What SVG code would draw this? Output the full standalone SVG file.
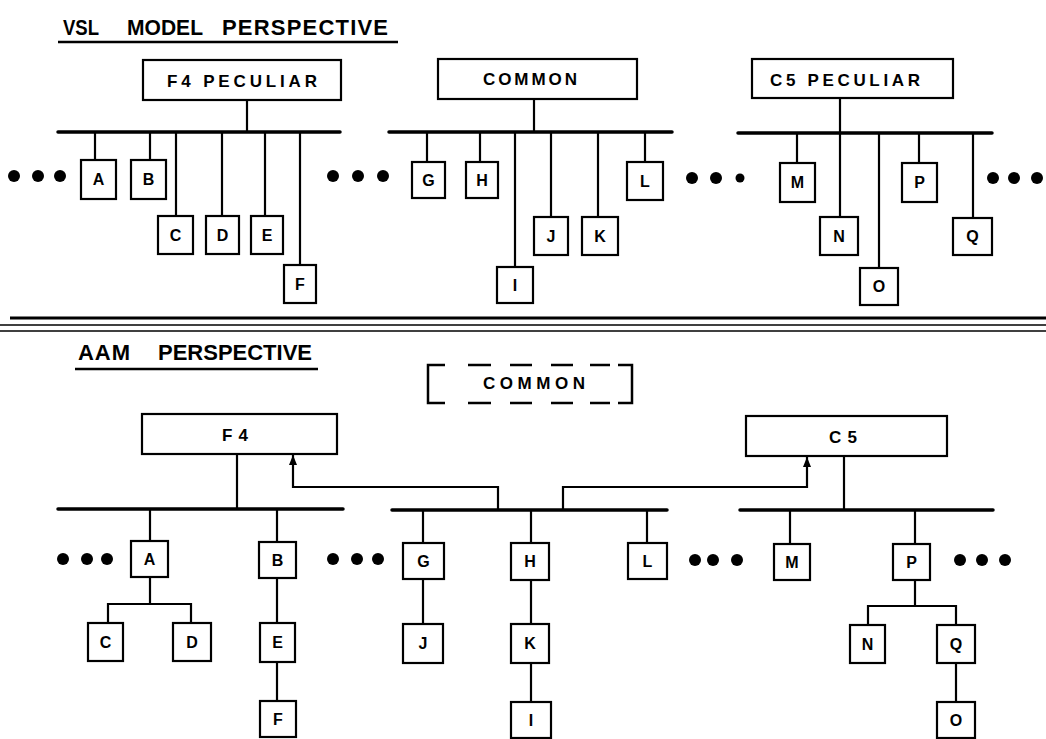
<svg xmlns="http://www.w3.org/2000/svg" width="1046" height="739" viewBox="0 0 1046 739">
<defs>
<style>
.box{fill:#fff;stroke:#000;stroke-width:2.2}
.bus{stroke:#000;stroke-width:3.5;stroke-linecap:round;fill:none}
.ln{stroke:#000;stroke-width:2.2;fill:none}
.lbl{font-family:"Liberation Sans",Arial,sans-serif;font-weight:bold;font-size:16px;text-anchor:middle;fill:#000}
.big{font-family:"Liberation Sans",Arial,sans-serif;font-weight:bold;font-size:17px;fill:#000}
.ttl{font-family:"Liberation Sans",Arial,sans-serif;font-weight:bold;font-size:22px;fill:#000}
.dot{fill:#000}
.dash{stroke:#000;stroke-width:2.5;fill:none}
</style>
<marker id="arr" markerUnits="userSpaceOnUse" markerWidth="10" markerHeight="8" refX="10" refY="4" orient="auto">
<path d="M0,0 L10,4 L0,8 z" fill="#000"/>
</marker>
</defs>
<rect width="1046" height="739" fill="#fff"/>

<!-- titles -->
<g id="title-vsl">
<text class="ttl" x="63" y="35" textLength="36" lengthAdjust="spacingAndGlyphs">VSL</text>
<text class="ttl" x="127" y="35" textLength="76" lengthAdjust="spacingAndGlyphs">MODEL</text>
<text class="ttl" x="222" y="35" textLength="166" lengthAdjust="spacing">PERSPECTIVE</text>
<line x1="58" y1="42" x2="398" y2="42" stroke="#000" stroke-width="2.5"/>
</g>
<g id="title-aam">
<text class="ttl" x="78" y="360" textLength="52" lengthAdjust="spacing">AAM</text>
<text class="ttl" x="158" y="360" textLength="154" lengthAdjust="spacing">PERSPECTIVE</text>
<line x1="75" y1="369" x2="318" y2="369" stroke="#000" stroke-width="2.5"/>
</g>

<!-- separator -->
<g id="separator">
<line x1="10" y1="318" x2="1046" y2="318" stroke="#000" stroke-width="2.8"/>
<line x1="0" y1="325" x2="1046" y2="325" stroke="#000" stroke-width="1.5"/>
<line x1="0" y1="331" x2="1046" y2="331" stroke="#000" stroke-width="1.5"/>
</g>

<!-- connectors -->
<g id="connectors">
<!-- top F4 -->
<line class="ln" x1="247" y1="100" x2="247" y2="132"/>
<line class="bus" x1="58" y1="132" x2="340" y2="132"/>
<line class="ln" x1="95" y1="132" x2="95" y2="160"/>
<line class="ln" x1="150" y1="132" x2="150" y2="160"/>
<line class="ln" x1="176" y1="132" x2="176" y2="216"/>
<line class="ln" x1="222" y1="132" x2="222" y2="216"/>
<line class="ln" x1="265" y1="132" x2="265" y2="216"/>
<line class="ln" x1="300" y1="132" x2="300" y2="265"/>
<!-- top COMMON -->
<line class="ln" x1="534" y1="99" x2="534" y2="132"/>
<line class="bus" x1="389" y1="132" x2="672" y2="132"/>
<line class="ln" x1="427" y1="132" x2="427" y2="162"/>
<line class="ln" x1="480" y1="132" x2="480" y2="162"/>
<line class="ln" x1="515" y1="132" x2="515" y2="267"/>
<line class="ln" x1="551" y1="132" x2="551" y2="217"/>
<line class="ln" x1="598" y1="132" x2="598" y2="217"/>
<line class="ln" x1="645" y1="132" x2="645" y2="162"/>
<!-- top C5 -->
<line class="ln" x1="840" y1="98" x2="840" y2="133"/>
<line class="bus" x1="738" y1="133" x2="992" y2="133"/>
<line class="ln" x1="797" y1="133" x2="797" y2="163"/>
<line class="ln" x1="840" y1="133" x2="840" y2="217"/>
<line class="ln" x1="879" y1="133" x2="879" y2="268"/>
<line class="ln" x1="919" y1="133" x2="919" y2="163"/>
<line class="ln" x1="973" y1="133" x2="973" y2="218"/>

<!-- bottom F4 -->
<line class="ln" x1="237" y1="454" x2="237" y2="509"/>
<line class="bus" x1="58" y1="509" x2="343" y2="509"/>
<line class="ln" x1="150" y1="509" x2="150" y2="541"/>
<path class="ln" d="M150,577 V604 M108,623 V604 H191 V623"/>
<line class="ln" x1="277" y1="509" x2="277" y2="542"/>
<line class="ln" x1="277" y1="578" x2="277" y2="623"/>
<line class="ln" x1="277" y1="662" x2="277" y2="701"/>
<!-- bottom COMMON -->
<line class="bus" x1="392" y1="510" x2="667" y2="510"/>
<line class="ln" x1="423" y1="510" x2="423" y2="543"/>
<line class="ln" x1="423" y1="579" x2="423" y2="624"/>
<line class="ln" x1="531" y1="510" x2="531" y2="543"/>
<line class="ln" x1="531" y1="580" x2="531" y2="624"/>
<line class="ln" x1="531" y1="663" x2="531" y2="702"/>
<line class="ln" x1="647" y1="510" x2="647" y2="543"/>
<path class="ln" d="M498,510 V487 H293 V455" marker-end="url(#arr)"/>
<path class="ln" d="M563,510 V487 H807 V457" marker-end="url(#arr)"/>
<!-- bottom C5 -->
<line class="ln" x1="844" y1="456" x2="844" y2="510"/>
<line class="bus" x1="740" y1="510" x2="993" y2="510"/>
<line class="ln" x1="790" y1="510" x2="790" y2="544"/>
<line class="ln" x1="915" y1="510" x2="915" y2="544"/>
<path class="ln" d="M915,580 V606 M868,625 V606 H956 V625"/>
<line class="ln" x1="956" y1="663" x2="956" y2="702"/>
</g>

<!-- ellipsis dots -->
<g id="dots">
<circle class="dot" cx="14" cy="176" r="6"/><circle class="dot" cx="38" cy="176" r="6"/><circle class="dot" cx="60" cy="176" r="6"/>
<circle class="dot" cx="333" cy="176" r="6"/><circle class="dot" cx="358" cy="176" r="6"/><circle class="dot" cx="383" cy="176" r="6"/>
<circle class="dot" cx="692" cy="178" r="6"/><circle class="dot" cx="716" cy="178" r="6"/><circle class="dot" cx="740" cy="178" r="4.5"/>
<circle class="dot" cx="993" cy="178" r="6"/><circle class="dot" cx="1014" cy="178" r="6"/><circle class="dot" cx="1037" cy="178" r="6"/>
<circle class="dot" cx="63" cy="559" r="6"/><circle class="dot" cx="87" cy="559" r="6"/><circle class="dot" cx="107" cy="559" r="6"/>
<circle class="dot" cx="333" cy="559" r="6"/><circle class="dot" cx="357" cy="559" r="6"/><circle class="dot" cx="378" cy="559" r="6"/>
<circle class="dot" cx="695" cy="560" r="6"/><circle class="dot" cx="713" cy="560" r="6"/><circle class="dot" cx="737" cy="560" r="6"/>
<circle class="dot" cx="960" cy="560" r="6"/><circle class="dot" cx="982" cy="560" r="6"/><circle class="dot" cx="1005" cy="560" r="6"/>
</g>

<!-- top nodes -->
<g id="vsl-f4-peculiar"><rect class="box" x="143" y="60" width="198" height="40"/><text class="big" x="167" y="87" textLength="150" lengthAdjust="spacing">F4 PECULIAR</text></g>
<g id="vsl-common"><rect class="box" x="438" y="59" width="199" height="40"/><text class="big" x="483" y="85" textLength="94" lengthAdjust="spacing">COMMON</text></g>
<g id="vsl-c5-peculiar"><rect class="box" x="752" y="59" width="201" height="39"/><text class="big" x="770" y="86" textLength="150" lengthAdjust="spacing">C5 PECULIAR</text></g>

<g id="vsl-A"><rect class="box" x="81" y="160" width="35" height="39"/><text class="lbl" x="98.5" y="185">A</text></g>
<g id="vsl-B"><rect class="box" x="131" y="160" width="35" height="39"/><text class="lbl" x="148.5" y="185">B</text></g>
<g id="vsl-C"><rect class="box" x="158" y="216" width="35" height="38"/><text class="lbl" x="175.5" y="241">C</text></g>
<g id="vsl-D"><rect class="box" x="206" y="216" width="33" height="38"/><text class="lbl" x="222.5" y="241">D</text></g>
<g id="vsl-E"><rect class="box" x="251" y="216" width="32" height="38"/><text class="lbl" x="267" y="241">E</text></g>
<g id="vsl-F"><rect class="box" x="284" y="265" width="32" height="38"/><text class="lbl" x="300" y="290">F</text></g>
<g id="vsl-G"><rect class="box" x="412" y="162" width="33" height="36"/><text class="lbl" x="428.5" y="186">G</text></g>
<g id="vsl-H"><rect class="box" x="466" y="162" width="32" height="36"/><text class="lbl" x="482" y="186">H</text></g>
<g id="vsl-I"><rect class="box" x="497" y="267" width="36" height="36"/><text class="lbl" x="515" y="291">I</text></g>
<g id="vsl-J"><rect class="box" x="534" y="217" width="34" height="38"/><text class="lbl" x="551" y="242">J</text></g>
<g id="vsl-K"><rect class="box" x="582" y="217" width="36" height="38"/><text class="lbl" x="600" y="242">K</text></g>
<g id="vsl-L"><rect class="box" x="627" y="162" width="36" height="38"/><text class="lbl" x="645" y="187">L</text></g>
<g id="vsl-M"><rect class="box" x="780" y="163" width="35" height="39"/><text class="lbl" x="797.5" y="188">M</text></g>
<g id="vsl-N"><rect class="box" x="820" y="217" width="38" height="38"/><text class="lbl" x="839" y="242">N</text></g>
<g id="vsl-O"><rect class="box" x="860" y="268" width="38" height="37"/><text class="lbl" x="879" y="292">O</text></g>
<g id="vsl-P"><rect class="box" x="902" y="163" width="35" height="39"/><text class="lbl" x="919.5" y="188">P</text></g>
<g id="vsl-Q"><rect class="box" x="953" y="218" width="39" height="37"/><text class="lbl" x="972.5" y="242">Q</text></g>

<!-- bottom nodes -->
<g id="aam-common">
<path class="dash" d="M445,365 H428 V403 H445 M618,365 H632 V403 H618 M468,365 H491 M510,365 H532 M551,365 H573 M590,365 H610 M468,403 H491 M510,403 H532 M551,403 H573 M590,403 H610"/>
<text class="big" x="483" y="389" textLength="102" lengthAdjust="spacing">COMMON</text>
</g>
<g id="aam-f4"><rect class="box" x="142" y="414" width="195" height="40"/><text class="big" x="222" y="441" textLength="26" lengthAdjust="spacing">F4</text></g>
<g id="aam-c5"><rect class="box" x="746" y="416" width="201" height="40"/><text class="big" x="829" y="443" textLength="28" lengthAdjust="spacing">C5</text></g>

<g id="aam-A"><rect class="box" x="131" y="541" width="37" height="36"/><text class="lbl" x="149.5" y="565">A</text></g>
<g id="aam-C"><rect class="box" x="88" y="623" width="35" height="38"/><text class="lbl" x="105.5" y="648">C</text></g>
<g id="aam-D"><rect class="box" x="173" y="623" width="38" height="38"/><text class="lbl" x="192" y="648">D</text></g>
<g id="aam-B"><rect class="box" x="259" y="542" width="37" height="36"/><text class="lbl" x="277.5" y="566">B</text></g>
<g id="aam-E"><rect class="box" x="260" y="623" width="35" height="39"/><text class="lbl" x="277.5" y="648">E</text></g>
<g id="aam-F"><rect class="box" x="260" y="701" width="36" height="36"/><text class="lbl" x="278" y="725">F</text></g>
<g id="aam-G"><rect class="box" x="403" y="543" width="41" height="36"/><text class="lbl" x="423.5" y="567">G</text></g>
<g id="aam-J"><rect class="box" x="403" y="624" width="40" height="39"/><text class="lbl" x="423" y="649">J</text></g>
<g id="aam-H"><rect class="box" x="511" y="543" width="38" height="37"/><text class="lbl" x="530" y="567">H</text></g>
<g id="aam-K"><rect class="box" x="511" y="624" width="38" height="39"/><text class="lbl" x="530" y="649">K</text></g>
<g id="aam-I"><rect class="box" x="511" y="702" width="40" height="36"/><text class="lbl" x="531" y="726">I</text></g>
<g id="aam-L"><rect class="box" x="628" y="543" width="39" height="36"/><text class="lbl" x="647.5" y="567">L</text></g>
<g id="aam-M"><rect class="box" x="774" y="544" width="36" height="36"/><text class="lbl" x="792" y="568">M</text></g>
<g id="aam-P"><rect class="box" x="893" y="544" width="37" height="36"/><text class="lbl" x="911.5" y="568">P</text></g>
<g id="aam-N"><rect class="box" x="850" y="625" width="35" height="38"/><text class="lbl" x="867.5" y="650">N</text></g>
<g id="aam-Q"><rect class="box" x="937" y="625" width="38" height="38"/><text class="lbl" x="956" y="650">Q</text></g>
<g id="aam-O"><rect class="box" x="937" y="702" width="38" height="36"/><text class="lbl" x="956" y="726">O</text></g>
</svg>
